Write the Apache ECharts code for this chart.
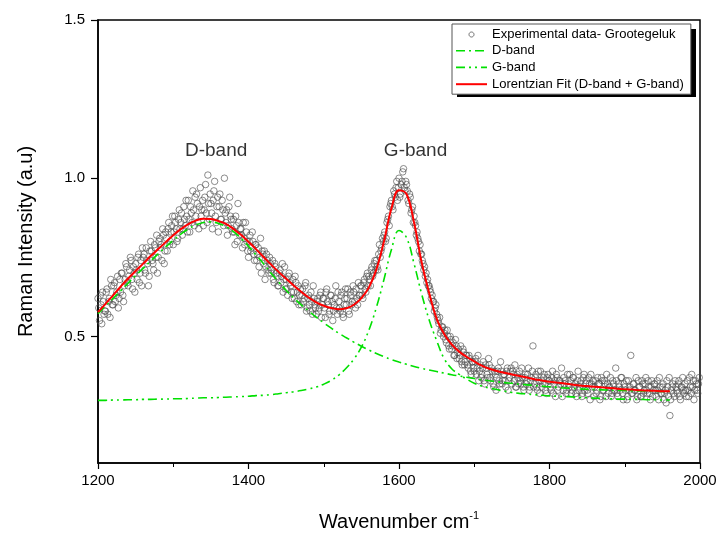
<!DOCTYPE html>
<html><head><meta charset="utf-8">
<script src="https://cdn.jsdelivr.net/npm/echarts@6/dist/echarts.min.js"></script>
<style>html,body{margin:0;padding:0;background:#fff}#c{width:721px;height:537px}</style>
</head><body><div id="c"></div>
<script>
// Wavenumber grid of the fitted curves (cm-1): 1200 .. 1960, every 10
const fitStart = 1200, fitStep = 10;
const fitValues = [0.577,0.603,0.630,0.657,0.683,0.707,0.730,0.754,0.776,0.798,
  0.820,0.839,0.855,0.866,0.872,0.871,0.865,0.856,0.840,0.821,
  0.799,0.776,0.751,0.727,0.704,0.682,0.661,0.641,0.623,0.608,
  0.597,0.590,0.586,0.589,0.600,0.621,0.655,0.712,0.800,0.905,
  0.962,0.950,0.860,0.735,0.638,0.556,0.508,0.475,0.452,0.435,
  0.421,0.408,0.398,0.391,0.385,0.380,0.375,0.370,0.365,0.361,
  0.357,0.354,0.351,0.348,0.345,0.343,0.341,0.339,0.337,0.335,
  0.333,0.332,0.330,0.329,0.328,0.327,0.327];
const dBandValues = [0.572,0.596,0.620,0.644,0.668,0.692,0.715,0.738,0.761,0.783,
  0.804,0.823,0.840,0.852,0.860,0.862,0.857,0.847,0.831,0.810,
  0.785,0.758,0.730,0.700,0.672,0.646,0.622,0.600,0.580,0.561,
  0.543,0.526,0.510,0.496,0.482,0.469,0.457,0.446,0.436,0.427,
  0.419,0.412,0.405,0.399,0.394,0.389,0.384,0.379,0.375,0.371,
  0.367,0.363,0.360,0.357,0.354,0.352,0.349,0.347,0.345,0.343,
  0.341,0.339,0.337,0.336,0.334,0.333,0.332,0.331,0.330,0.329,
  0.329,0.328,0.328,0.327,0.327,0.326,0.326];
const gBandValues = [0.298,0.298,0.299,0.299,0.300,0.300,0.301,0.301,0.302,0.302,
  0.303,0.303,0.304,0.305,0.306,0.306,0.307,0.308,0.309,0.310,
  0.311,0.313,0.314,0.316,0.319,0.322,0.325,0.329,0.334,0.340,
  0.349,0.361,0.378,0.400,0.428,0.466,0.520,0.592,0.680,0.775,
  0.835,0.812,0.730,0.635,0.553,0.487,0.430,0.398,0.380,0.365,
  0.352,0.343,0.337,0.332,0.327,0.323,0.320,0.318,0.316,0.314,
  0.312,0.311,0.310,0.309,0.307,0.306,0.305,0.304,0.303,0.302,
  0.302,0.301,0.301,0.300,0.300,0.299,0.299];

// Experimental spectrum, even wavenumbers 1200 .. 1998 (step 2)
const expEvenStart = 1200, expStep = 2;
const expEvenValues = [
  0.62,0.55,0.60,0.64,0.57, 0.58,0.65,0.61,0.56,0.66, 0.60,0.67,0.63,0.69,0.62, 0.64,0.70,0.61,0.68,0.72,
  0.66,0.71,0.74,0.65,0.70, 0.73,0.68,0.76,0.70,0.66, 0.75,0.71,0.78,0.73,0.69, 0.80,0.74,0.71,0.78,0.82,
  0.75,0.81,0.79,0.84,0.73, 0.83,0.77,0.86,0.80,0.85, 0.79,0.88,0.84,0.81,0.90, 0.86,0.82,0.91,0.85,0.88,
  0.93,0.83,0.89,0.96,0.85, 0.88,0.92,0.84,0.97,0.90, 0.85,0.94,0.89,1.01,0.87, 0.92,0.84,0.96,0.88,0.91,
  0.83,0.95,0.87,0.90,1.00, 0.86,0.82,0.91,0.88,0.84, 0.87,0.79,0.85,0.92,0.82, 0.84,0.78,0.81,0.86,0.80,
  0.75,0.82,0.78,0.80,0.74, 0.79,0.76,0.72,0.81,0.77, 0.73,0.68,0.76,0.71,0.75, 0.70,0.74,0.67,0.72,0.69,
  0.66,0.71,0.69,0.64,0.72, 0.68,0.63,0.70,0.66,0.62, 0.64,0.69,0.61,0.66,0.63, 0.60,0.65,0.62,0.67,0.59,
  0.63,0.58,0.61,0.66,0.60, 0.57,0.62,0.59,0.64,0.60, 0.62,0.56,0.65,0.60,0.58, 0.63,0.55,0.60,0.66,0.57,
  0.61,0.58,0.64,0.56,0.62, 0.60,0.65,0.57,0.63,0.61, 0.64,0.59,0.62,0.67,0.63, 0.66,0.62,0.68,0.64,0.70,
  0.69,0.66,0.72,0.70,0.74, 0.74,0.71,0.79,0.77,0.81, 0.82,0.80,0.86,0.88,0.91, 0.93,0.90,0.95,0.97,0.93,
  1.00,0.95,0.99,1.03,0.96, 0.98,0.93,0.95,0.89,0.91, 0.88,0.85,0.83,0.80,0.79, 0.76,0.73,0.72,0.70,0.68,
  0.66,0.64,0.63,0.61,0.59, 0.57,0.55,0.56,0.52,0.53, 0.51,0.49,0.52,0.47,0.50, 0.46,0.48,0.44,0.47,0.45,
  0.43,0.47,0.41,0.45,0.42, 0.44,0.40,0.43,0.38,0.42, 0.39,0.43,0.40,0.36,0.41, 0.38,0.42,0.35,0.40,0.37,
  0.41,0.36,0.39,0.34,0.38, 0.37,0.40,0.35,0.39,0.36, 0.38,0.34,0.40,0.36,0.39, 0.35,0.38,0.41,0.34,0.37,
  0.39,0.35,0.37,0.33,0.38, 0.36,0.40,0.34,0.37,0.47, 0.35,0.38,0.33,0.36,0.39, 0.34,0.37,0.35,0.32,0.38,
  0.36,0.33,0.39,0.35,0.31, 0.37,0.34,0.36,0.40,0.33, 0.35,0.32,0.38,0.34,0.36, 0.33,0.37,0.35,0.31,0.39,
  0.34,0.36,0.32,0.38,0.35, 0.33,0.37,0.30,0.35,0.36, 0.34,0.32,0.37,0.35,0.31, 0.36,0.33,0.35,0.38,0.32,
  0.34,0.31,0.36,0.33,0.40, 0.32,0.35,0.33,0.37,0.30, 0.34,0.36,0.31,0.33,0.44, 0.32,0.35,0.33,0.30,0.36,
  0.34,0.31,0.35,0.33,0.37, 0.32,0.34,0.30,0.36,0.33, 0.35,0.31,0.33,0.37,0.32, 0.34,0.30,0.33,0.36,0.31,
  0.25,0.33,0.35,0.31,0.34, 0.32,0.36,0.30,0.34,0.33, 0.35,0.31,0.33,0.37,0.32, 0.34,0.30,0.36,0.33,0.35];
// Experimental spectrum, odd wavenumbers 1201 .. 1999 (step 2)
const expOddStart = 1201;
const expOddValues = [
  0.59,0.63,0.54,0.61,0.58, 0.64,0.57,0.62,0.68,0.60, 0.66,0.61,0.64,0.59,0.68, 0.70,0.63,0.66,0.73,0.67,
  0.69,0.75,0.68,0.72,0.64, 0.71,0.75,0.67,0.74,0.78, 0.76,0.70,0.74,0.66,0.77, 0.77,0.73,0.79,0.75,0.70,
  0.80,0.78,0.74,0.82,0.77, 0.81,0.84,0.79,0.83,0.88, 0.83,0.86,0.80,0.87,0.84, 0.89,0.84,0.87,0.93,0.83,
  0.87,0.91,0.86,0.90,0.94, 0.95,0.86,0.91,0.88,0.93, 0.90,0.98,0.86,0.92,0.95, 0.89,0.93,0.99,0.86,0.94,
  0.91,0.87,0.93,0.85,0.89, 0.90,0.85,0.94,0.87,0.83, 0.83,0.88,0.80,0.86,0.84, 0.82,0.86,0.79,0.83,0.77,
  0.80,0.77,0.83,0.76,0.79, 0.74,0.78,0.75,0.70,0.76, 0.77,0.72,0.74,0.70,0.73, 0.71,0.68,0.73,0.70,0.66,
  0.70,0.67,0.73,0.68,0.65, 0.65,0.69,0.67,0.64,0.68, 0.62,0.67,0.64,0.60,0.65, 0.63,0.61,0.66,0.58,0.62,
  0.60,0.64,0.57,0.62,0.59, 0.61,0.58,0.63,0.56,0.62, 0.59,0.64,0.61,0.57,0.63, 0.61,0.58,0.62,0.59,0.64,
  0.59,0.63,0.57,0.60,0.65, 0.62,0.58,0.64,0.60,0.66, 0.61,0.65,0.60,0.63,0.66, 0.63,0.67,0.65,0.69,0.66,
  0.68,0.71,0.69,0.73,0.71, 0.72,0.76,0.75,0.78,0.80, 0.83,0.81,0.87,0.85,0.92, 0.91,0.96,0.94,0.99,0.97,
  0.94,0.98,1.02,0.97,0.99, 0.96,0.92,0.94,0.90,0.86, 0.86,0.82,0.81,0.77,0.76, 0.74,0.71,0.69,0.67,0.66,
  0.65,0.62,0.61,0.58,0.60, 0.56,0.54,0.51,0.53,0.50, 0.52,0.48,0.50,0.46,0.49, 0.47,0.44,0.49,0.43,0.46,
  0.44,0.42,0.46,0.41,0.44, 0.41,0.44,0.39,0.42,0.40, 0.42,0.38,0.44,0.39,0.37, 0.40,0.36,0.41,0.38,0.43,
  0.37,0.40,0.35,0.39,0.33, 0.39,0.36,0.42,0.35,0.38, 0.36,0.39,0.33,0.37,0.40, 0.39,0.36,0.34,0.38,0.35,
  0.36,0.40,0.34,0.37,0.35, 0.38,0.33,0.36,0.39,0.34, 0.37,0.34,0.39,0.32,0.36, 0.35,0.38,0.33,0.37,0.36,
  0.34,0.37,0.32,0.36,0.38, 0.33,0.36,0.35,0.31,0.37, 0.36,0.33,0.35,0.38,0.32, 0.37,0.34,0.32,0.36,0.33,
  0.35,0.31,0.37,0.33,0.36, 0.32,0.35,0.38,0.34,0.31, 0.36,0.33,0.35,0.30,0.37, 0.33,0.36,0.31,0.35,0.34,
  0.37,0.32,0.35,0.33,0.36, 0.31,0.34,0.37,0.32,0.35, 0.33,0.30,0.36,0.34,0.32, 0.35,0.33,0.37,0.31,0.34,
  0.31,0.36,0.32,0.35,0.33, 0.36,0.32,0.34,0.31,0.35, 0.33,0.36,0.30,0.34,0.32, 0.35,0.32,0.29,0.34,0.37,
  0.30,0.34,0.32,0.36,0.33, 0.35,0.31,0.34,0.37,0.32, 0.33,0.36,0.31,0.34,0.38, 0.36,0.33,0.35,0.32,0.37];

const yTickValues = [0.5, 1.0, 1.5];
const seriesNames = ['Experimental data- Grootegeluk', 'D-band', 'G-band', 'Lorentzian Fit (D-band + G-band)'];
const peakLabels = [[1357, 1.086, 'D-band'], [1622, 1.086, 'G-band']];

const FONT = '"Liberation Sans", Arial, sans-serif';
const GREEN = '#00e000';
const RED = '#ff0000';
const D_DASH = [9, 4, 2, 4];
const G_DASH = [9, 4, 2, 4, 2, 4];
const toPairs = (start, step, vals) => vals.map((v, i) => [start + i * step, v]);
const expData = toPairs(expEvenStart, expStep, expEvenValues).concat(toPairs(expOddStart, expStep, expOddValues));

// legend icons: a 31x12 box holding a horizontal stroke / a small circle
const LINE_ICON = 'path://M0,0L0,0M31,0L31,0M0,12L0,12M31,12L31,12M0,6L31,6';
const CIRCLE_ICON = 'path://M0,0L0,0M24,0L24,0M24,24L24,24M0,24L0,24M17,12C17,14.76 14.76,17 12,17C9.24,17 7,14.76 7,12C7,9.24 9.24,7 12,7C14.76,7 17,9.24 17,12Z';

const chart = echarts.init(document.getElementById('c'), null, {renderer: 'canvas'});
chart.setOption({
  animation: false,
  backgroundColor: '#fff',
  textStyle: {fontFamily: FONT},
  grid: {left: 98, right: 21, top: 20, bottom: 71, show: true, borderColor: '#000', borderWidth: 1.5, backgroundColor: 'transparent'},
  // drop shadow of the legend frame
  graphic: [{type: 'rect', left: 457, top: 29, z: 1, silent: true,
    shape: {width: 239, height: 68}, style: {fill: '#000'}}],
  legend: {
    orient: 'vertical', left: 452, top: 24, align: 'left', z: 10,
    itemWidth: 31, itemHeight: 12, itemGap: 3,
    padding: [4, 7, 3, 3],
    backgroundColor: '#fff', borderColor: '#555', borderWidth: 1,
    selectedMode: false,
    textStyle: {fontSize: 13, color: '#000', fontFamily: FONT, lineHeight: 13},
    data: [
      {name: seriesNames[0], icon: CIRCLE_ICON,
       itemStyle: {color: 'rgba(0,0,0,0)', borderColor: '#505050', borderWidth: 1}},
      {name: seriesNames[1], icon: LINE_ICON,
       itemStyle: {color: 'rgba(0,0,0,0)', borderColor: GREEN, borderWidth: 1.6, borderType: D_DASH}},
      {name: seriesNames[2], icon: LINE_ICON,
       itemStyle: {color: 'rgba(0,0,0,0)', borderColor: GREEN, borderWidth: 1.6, borderType: G_DASH}},
      {name: seriesNames[3], icon: LINE_ICON,
       itemStyle: {color: 'rgba(0,0,0,0)', borderColor: RED, borderWidth: 2, borderType: 'solid'}}
    ]
  },
  xAxis: {
    type: 'value', min: 1200, max: 2000, interval: 200,
    axisLine: {show: true, onZero: false, lineStyle: {color: '#000', width: 1.5}},
    axisTick: {show: true, inside: false, length: 6, lineStyle: {color: '#000', width: 1.2}},
    minorTick: {show: true, splitNumber: 2, length: 4, lineStyle: {color: '#000', width: 1}},
    axisLabel: {color: '#000', fontSize: 15, margin: 10, fontFamily: FONT, formatter: v => String(v)},
    splitLine: {show: false}, minorSplitLine: {show: false},
    name: '{a|Wavenumber cm}{b|-1}', nameLocation: 'middle', nameGap: 47,
    nameTextStyle: {color: '#000', fontFamily: FONT, rich: {
      a: {fontSize: 20, lineHeight: 24, color: '#000', fontFamily: FONT},
      b: {fontSize: 11, lineHeight: 13, verticalAlign: 'top', color: '#000', fontFamily: FONT}
    }}
  },
  yAxis: {
    type: 'value', min: 0.1, max: 1.5,
    axisLine: {show: true, onZero: false, lineStyle: {color: '#000', width: 1.5}},
    axisTick: {show: true, inside: false, length: 7, customValues: yTickValues, lineStyle: {color: '#000', width: 1.2}},
    axisLabel: {color: '#000', fontSize: 15, margin: 13, fontFamily: FONT, customValues: yTickValues,
      formatter: v => Number(v).toFixed(1)},
    splitLine: {show: false},
    name: 'Raman Intensity (a.u)', nameLocation: 'middle', nameGap: 62,
    nameTextStyle: {color: '#000', fontSize: 20, fontFamily: FONT}
  },
  series: [
    {
      name: seriesNames[0], type: 'scatter', symbol: 'circle', symbolSize: 6.5,
      itemStyle: {color: 'rgba(255,255,255,0)', borderColor: '#4a4a4a', borderWidth: 0.8},
      data: expData, z: 1, silent: true
    },
    {
      name: seriesNames[1], type: 'line', smooth: 0.4, showSymbol: false, symbol: 'none',
      lineStyle: {color: GREEN, width: 1.6, type: D_DASH},
      itemStyle: {color: GREEN},
      data: toPairs(fitStart, fitStep, dBandValues), z: 3
    },
    {
      name: seriesNames[2], type: 'line', smooth: 0.4, showSymbol: false, symbol: 'none',
      lineStyle: {color: GREEN, width: 1.6, type: G_DASH},
      itemStyle: {color: GREEN},
      data: toPairs(fitStart, fitStep, gBandValues), z: 3
    },
    {
      name: seriesNames[3], type: 'line', smooth: 0.4, showSymbol: false, symbol: 'none',
      lineStyle: {color: RED, width: 2},
      itemStyle: {color: RED},
      data: toPairs(fitStart, fitStep, fitValues), z: 4
    },
    {
      name: 'peak labels', type: 'scatter', symbolSize: 0, silent: true,
      label: {show: true, position: 'inside', formatter: p => p.data[2], color: '#000', fontSize: 19, fontFamily: FONT},
      data: peakLabels, z: 5
    }
  ]
});
</script>
</body></html>
